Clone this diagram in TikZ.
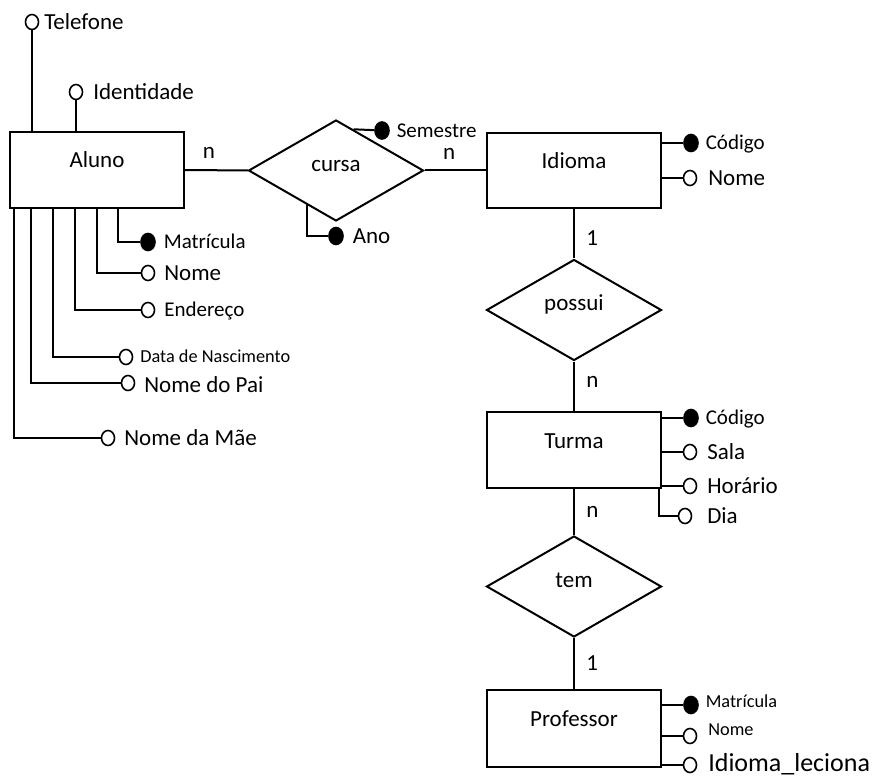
\documentclass[tikz,border=0pt]{standalone}
\usepackage{fontspec}
\setmainfont{Carlito}
\usetikzlibrary{shapes.geometric, positioning, calc}

\begin{document}
\begin{tikzpicture}[
    x=1pt, y=-1pt, line width=2pt,
    entity/.style={rectangle, draw, minimum width=174pt, minimum height=76pt, text height=16pt, text depth=20pt, font=\fontsize{23}{27}\selectfont},
    relation/.style={diamond, draw, minimum width=175pt, minimum height=101pt, inner sep=0pt, text height=10pt, text depth=8pt, font=\fontsize{23}{27}\selectfont},
    attr/.style={ellipse, draw, line width=1.6pt, minimum width=13pt, minimum height=15pt, inner sep=0pt},
    keyattr/.style={attr, fill=black, minimum width=14pt, minimum height=17pt},
    attrname/.style={inner sep=0pt, text height=14.8pt, text depth=0pt, font=\fontsize{23}{27}\selectfont},
    attrsmall/.style={inner sep=0pt, text height=13.5pt, text depth=0pt, font=\fontsize{21}{25}\selectfont},
    attrtiny/.style={inner sep=0pt, text height=11.8pt, text depth=0pt, font=\fontsize{18.3}{22}\selectfont},
    attrbig/.style={inner sep=0pt, text height=16.7pt, text depth=0pt, font=\fontsize{26}{30}\selectfont},
    cardinality/.style={font=\fontsize{23}{27}\selectfont}
]
\useasboundingbox (0,0) rectangle (876,778);

% Entities
\node[entity] (aluno) at (97,170) {Aluno};
\node[entity, minimum height=75pt] (idioma) at (574,170.5) {Idioma};
\node[entity] (turma) at (574,450) {Turma};
\node[entity, minimum height=77pt] (prof) at (574,728.5) {Professor};

% Relationships
\node[relation] (cursa) at (336,170.5) {cursa};
\node[relation] (possui) at (574,310) {possui};
\node[relation] (tem) at (574,586.5) {tem};

% Aluno attributes
\node[attr] (tel) at (32,22) {};
\node[attrname, right=4pt of tel] (teltxt) {Telefone};
\node[attr] (ident) at (76,92) {};
\node[attrname, right=9pt of ident] (identtxt) {Identidade};
\node[keyattr] (amat) at (148,242) {};
\node[attrsmall, right=7pt of amat] (amattxt) {Matrícula};
\node[attr] (anome) at (148,273) {};
\node[attrname, right=8pt of anome] (anometxt) {Nome};
\node[attr] (aend) at (148,310) {};
\node[attrsmall, right=8pt of aend] (aendtxt) {Endereço};
\node[attr] (anasc) at (126,357) {};
\node[attrtiny, right=6pt of anasc] (anasctxt) {Data de Nascimento};
\node[attr] (apai) at (128,383) {};
\node[attrname, right=8pt of apai, yshift=-2pt] (apaitxt) {Nome do Pai};
\node[attr] (amae) at (108,438) {};
\node[attrname, right=8pt of amae] (amaetxt) {Nome da Mãe};

\draw (tel) -- (tel |- aluno.north);
\draw (ident) -- (ident |- aluno.north);
\draw ([xshift=109pt]aluno.south west) |- (amat);
\draw ([xshift=88pt]aluno.south west) |- (anome);
\draw ([xshift=66pt]aluno.south west) |- (aend);
\draw ([xshift=44pt]aluno.south west) |- (anasc);
\draw ([xshift=22pt]aluno.south west) |- (apai);
\draw ([xshift=5pt]aluno.south west) |- (amae);

% cursa attributes
\node[keyattr] (sem) at (382,130.5) {};
\node[attrsmall, right=6pt of sem] (semtxt) {Semestre};
\node[keyattr] (ano) at (336,236) {};
\node[attrname, right=8pt of ano] (anotxt) {Ano};
\draw ($(cursa.north)!0.2!(cursa.east)$) -- (sem);
\draw ($(cursa.west)!0.67!(cursa.south)$) |- (ano);

% Idioma attributes
\node[keyattr] (icod) at (691,143) {};
\node[attrsmall, right=6pt of icod] (icodtxt) {Código};
\node[attr] (inome) at (690,178) {};
\node[attrname, right=10pt of inome] (inometxt) {Nome};
\draw (idioma.east |- icod) -- (icod);
\draw (idioma.east |- inome) -- (inome);

% Turma attributes
\node[keyattr] (tcod) at (691,418) {};
\node[attrsmall, right=6pt of tcod] (tcodtxt) {Código};
\node[attr] (tsala) at (690,452) {};
\node[attrname, right=9pt of tsala] (tsalatxt) {Sala};
\node[attr] (thor) at (690,486) {};
\node[attrname, right=9pt of thor] (thortxt) {Horário};
\node[attr] (tdia) at (685,516) {};
\node[attrname, right=14pt of tdia] (tdiatxt) {Dia};
\draw (turma.east |- tcod) -- (tcod);
\draw (turma.east |- tsala) -- (tsala);
\draw (turma.east |- thor) -- (thor);
\draw ([xshift=-3pt]turma.south east) |- (tdia);

% Professor attributes
\node[keyattr] (pmat) at (691,705) {};
\node[attrtiny, right=6pt of pmat, yshift=3pt] (pmattxt) {Matrícula};
\node[attr] (pnome) at (690,736) {};
\node[attrtiny, right=10pt of pnome, yshift=6pt] (pnometxt) {Nome};
\node[attr] (pidi) at (690,765) {};
\node[attrbig, right=10pt of pidi, yshift=2pt] (piditxt) {Idioma\_leciona};
\draw (prof.east |- pmat) -- (pmat);
\draw (prof.east |- pnome) -- (pnome);
\draw (prof.east |- pidi) -- (pidi);

% Cardinality
\draw (aluno) -- node[cardinality, above=7pt, pos=0.38] {n} (cursa);
\draw (cursa) -- node[cardinality, above=7pt, pos=0.4] {n} (idioma);
\draw (idioma) -- node[cardinality, right=8pt, pos=0.59] {1} (possui);
\draw (possui) -- node[cardinality, right=8pt, pos=0.41] {n} (turma);
\draw (turma) -- node[cardinality, right=8pt, pos=0.5] {n} (tem);
\draw (tem) -- node[cardinality, right=8pt, pos=0.49] {1} (prof);

\end{tikzpicture}
\end{document}
